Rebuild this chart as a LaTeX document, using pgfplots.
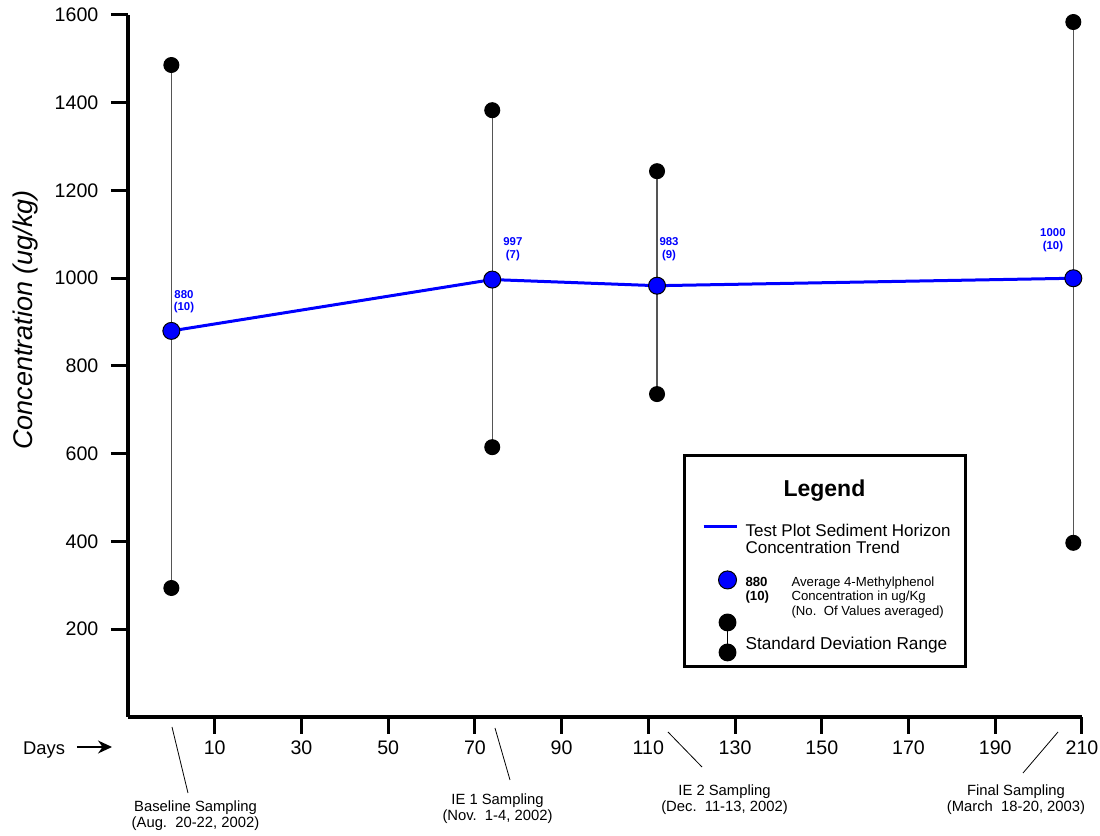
\documentclass[border=0pt]{standalone}
\usepackage{fontspec}
\setmainfont{Liberation Sans}
\usepackage{pgfplots}
\pgfplotsset{compat=1.18}
\usepackage{pgfplotstable}
\usetikzlibrary{arrows.meta}

\definecolor{meanblue}{RGB}{0,0,255}
\definecolor{sdgray}{RGB}{85,85,85}

% sampling day, mean concentration (ug/kg), number of values, label offsets (pt)
\pgfplotstableread{
day conc n dx dy
0   880  10  6.3  14.5
74  997  7   10.3 15.3
112 983  9   6.0  18.3
208 1000 10 -10.2 19.1
}\means

\begin{document}
\begin{tikzpicture}
\begin{axis}[
  scale only axis, width=477pt, height=351pt,
  xmin=-10, xmax=210, ymin=0, ymax=1600,
  axis lines*=left,
  axis line style={line width=1.8pt, black},
  xtick={10,30,...,210}, ytick={200,400,...,1600},
  tick align=outside, major tick length=8.5pt,
  tick style={line width=1.5pt, black},
  /pgf/number format/assume math mode=true,
  /pgf/number format/1000 sep={},
  tick label style={font=\fontsize{9.8}{11}\selectfont},
  yticklabel style={xshift=-2.8pt},
  ylabel={Concentration (ug/kg)},
  ylabel style={at={(axis description cs:-0.1074,0.5655)}, anchor=center,
    font=\fontsize{13.5}{15}\selectfont\itshape},
  clip=false,
  legend cell align=left,
  legend style={at={(axis description cs:0.5818,0.3746)}, anchor=north west,
    draw=black, line width=1.5pt, fill=white,
    inner xsep=5pt, inner ysep=0pt, row sep=0pt, column sep=1.5pt,
    nodes={inner sep=0pt, text depth={}}},
]

% trend line with averages
\addplot[forget plot, meanblue, line width=1.5pt,
  mark=*, mark size=4.25pt,
  mark options={fill=meanblue, draw=black, line width=0.5pt},
  point meta=\thisrow{conc},
  visualization depends on={\thisrow{n}\as\labn},
  visualization depends on={\thisrow{dx}\as\labdx},
  visualization depends on={\thisrow{dy}\as\labdy},
  nodes near coords={\pgfmathprintnumber{\pgfplotspointmeta}\\(\pgfmathprintnumber{\labn})},
  nodes near coords style={anchor=center, align=center, inner sep=0pt,
    xshift=\labdx pt, yshift=\labdy pt, text=meanblue,
    font=\fontsize{5.7}{6.3}\selectfont\bfseries},
] table[x=day, y=conc] {\means};

% standard deviation ranges
\addplot[forget plot, sdgray, line width=0.6pt, mark=*, mark size=3.7pt,
  mark options={fill=black, draw=black}] coordinates {(0,294) (0,1486)};
\addplot[forget plot, sdgray, line width=0.6pt, mark=*, mark size=3.7pt,
  mark options={fill=black, draw=black}] coordinates {(74,615) (74,1383)};
\addplot[forget plot, sdgray, line width=0.6pt, mark=*, mark size=3.7pt,
  mark options={fill=black, draw=black}] coordinates {(112,736) (112,1244)};
\addplot[forget plot, sdgray, line width=0.6pt, mark=*, mark size=3.7pt,
  mark options={fill=black, draw=black}] coordinates {(208,397) (208,1584)};

% legend
\addlegendimage{legend image code/.code={\path[draw=none, fill=none] (-12pt,-6.9pt) rectangle (12pt,17.74pt);}}
\addlegendentry{\fontsize{11.5}{13.8}\selectfont\begin{tabular}{@{}l@{}}\makebox[105pt][l]{\hspace*{19pt}\bfseries Legend}\end{tabular}}

\addlegendimage{legend image code/.code={%
  \draw[meanblue, line width=1.5pt] (-7.5pt,7.5pt) -- (9pt,7.5pt);
  \path[draw=none, fill=none] (-12pt,-8.5pt) rectangle (12pt,18.41pt);}}
\addlegendentry{\fontsize{8.5}{8.5}\selectfont\begin{tabular}{@{}l@{}}Test Plot Sediment Horizon\\Concentration Trend\end{tabular}}

\addlegendimage{legend image code/.code={%
  \draw[black, line width=0.5pt, fill=meanblue] (4.5pt,9.05pt) circle[radius=4.5pt];
  \path[draw=none, fill=none] (-12pt,-10.62pt) rectangle (12pt,19.5pt);}}
\addlegendentry{\fontsize{6.6}{7.25}\selectfont\makebox[23pt][l]{\begin{tabular}[t]{@{}l@{}}\bfseries 880\\\bfseries (10)\end{tabular}}\begin{tabular}[t]{@{}l@{}}Average 4-Methylphenol\\Concentration in ug/Kg\\(No.\ \ Of Values averaged)\end{tabular}}

\addlegendimage{legend image code/.code={%
  \begin{scope}[overlay]
    \draw[black, line width=0.6pt] (4.5pt,11.5pt) -- (4.5pt,-3.5pt);
    \fill[black] (4.5pt,11.5pt) circle[radius=3.7pt] (4.5pt,-3.5pt) circle[radius=3.7pt];
  \end{scope}
  \path[draw=none, fill=none] (-12pt,-10.5pt) rectangle (12pt,12.83pt);}}
\addlegendentry{\fontsize{8.6}{10.3}\selectfont\begin{tabular}{@{}l@{}}Standard Deviation Range\end{tabular}}
\end{axis}

% sampling event notes below the day axis
\begin{scope}[font=\fontsize{7.4}{8}\selectfont, line width=0.4pt]
  \node[align=center] at (33.75pt,-49.5pt) {Baseline Sampling\\(Aug.\ \ 20-22, 2002)};
  \draw (22pt,-5pt) -- (30pt,-38pt);
  \node[align=center] at (184.75pt,-46pt) {IE 1 Sampling\\(Nov.\ \ 1-4, 2002)};
  \draw (183.5pt,-5.5pt) -- (191pt,-31.5pt);
  \node[align=center] at (298.25pt,-41.5pt) {IE 2 Sampling\\(Dec.\ \ 11-13, 2002)};
  \draw (270pt,-7.5pt) -- (287pt,-25pt);
  \node[align=center] at (444pt,-41.5pt) {Final Sampling\\(March\ \ 18-20, 2003)};
  \draw (465pt,-7.5pt) -- (447.5pt,-28pt);
\end{scope}
\node[font=\fontsize{9.2}{11}\selectfont] at (-42pt,-16.5pt) {Days};
\draw[-{Stealth[length=7pt,width=6.5pt]}, line width=0.6pt] (-25.5pt,-15pt) -- (-8pt,-15pt);

\pgfresetboundingbox
\useasboundingbox (-64pt,-59.5pt) rectangle (486pt,358.5pt);
\end{tikzpicture}
\end{document}
